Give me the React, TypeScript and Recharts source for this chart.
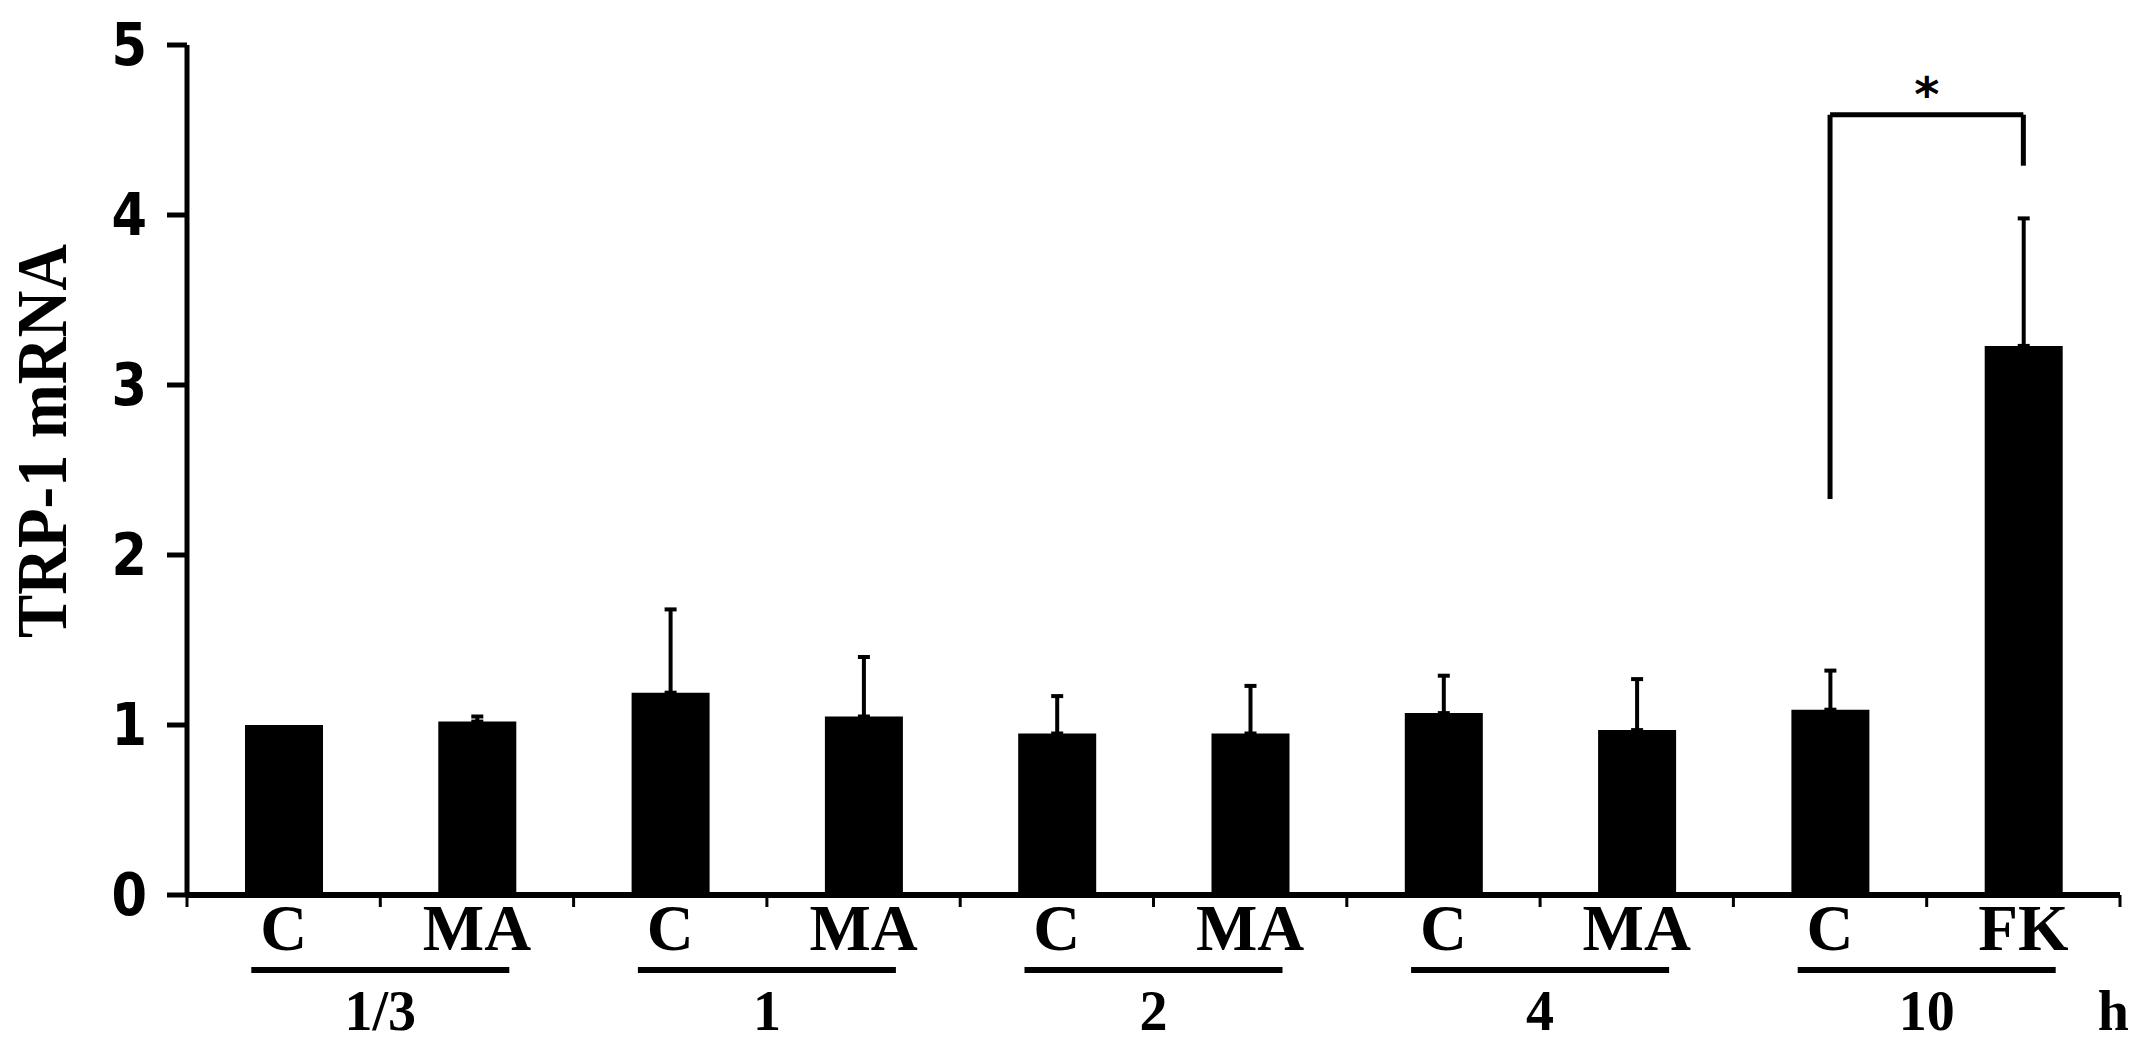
import React from 'react';
import { BarChart, Bar, XAxis, YAxis, ErrorBar, ReferenceLine } from 'recharts';

const timeGroups = ['1/3', '1', '2', '4', '10'];
const treatments = ['C', 'MA', 'C', 'MA', 'C', 'MA', 'C', 'MA', 'C', 'FK'];
const means = [1.0, 1.02, 1.19, 1.05, 0.95, 0.95, 1.07, 0.97, 1.09, 3.23];
const sems = [0, 0.03, 0.49, 0.35, 0.22, 0.28, 0.22, 0.3, 0.23, 0.75];
const yTicks = [0, 1, 2, 3, 4, 5];

// significance bracket between 10h C and FK
const sigLeftBottom = 2.33;
const sigTop = 4.59;
const sigRightBottom = 4.29;

const data = treatments.map((t, i) => ({
  key: `${timeGroups[Math.floor(i / 2)]}-${t}`,
  treatment: t,
  mean: means[i],
  err: sems[i] > 0 ? [0, sems[i]] : null,
}));

const CHART_W = 2150;
const CHART_H = 1050;
const MARGIN = { top: 45, right: 30, bottom: 0, left: 0 };
const YAXIS_W = 187;
const XAXIS_H = 155;
const BAND = (CHART_W - MARGIN.left - MARGIN.right - YAXIS_W) / treatments.length;

const SERIF = '"Liberation Serif", "Times New Roman", serif';
const SANS = '"DejaVu Sans", Verdana, sans-serif';

const CategoryTick = (props: any) => {
  const { x, y, index } = props;
  const last = index === treatments.length - 1;
  const groupStart = index % 2 === 0;
  const gx = x + BAND / 2;
  return (
    <g>
      <line x1={x - BAND / 2} x2={x - BAND / 2} y1={y} y2={y + 12} stroke="#000" strokeWidth={3} />
      {last && <line x1={x + BAND / 2} x2={x + BAND / 2} y1={y} y2={y + 12} stroke="#000" strokeWidth={3} />}
      <text x={x} y={y + 55} textAnchor="middle" fontFamily={SERIF} fontWeight="bold" fontSize={65} fill="#000">
        {treatments[index]}
      </text>
      {groupStart && (
        <>
          <line x1={gx - 129} x2={gx + 129} y1={y + 75} y2={y + 75} stroke="#000" strokeWidth={6} />
          <text x={gx} y={y + 135} textAnchor="middle" fontFamily={SERIF} fontWeight="bold" fontSize={56} fill="#000">
            {timeGroups[index / 2]}
          </text>
        </>
      )}
      {last && (
        <text x={x + 90} y={y + 135} textAnchor="middle" fontFamily={SERIF} fontWeight="bold" fontSize={56} fill="#000">
          h
        </text>
      )}
    </g>
  );
};

const ValueTick = (props: any) => {
  const { x, y, payload } = props;
  return (
    <text
      transform={`translate(${x}, ${y}) scale(0.88, 1)`}
      textAnchor="end"
      dominantBaseline="central"
      fontFamily={SANS}
      fontWeight="bold"
      fontSize={58}
      fill="#000"
    >
      {payload.value}
    </text>
  );
};

const YLabel = (props: any) => {
  const vb = props.viewBox || { x: 0, y: MARGIN.top, width: YAXIS_W, height: 850 };
  const cx = vb.x + 42;
  const cy = vb.y + vb.height / 2 - 29;
  return (
    <text
      transform={`translate(${cx}, ${cy}) rotate(-90) scale(0.9, 1)`}
      textAnchor="middle"
      dominantBaseline="central"
      fontFamily={SERIF}
      fontWeight="bold"
      fontSize={72}
      fill="#000"
    >
      TRP-1 mRNA
    </text>
  );
};

export default function App() {
  return (
    <div style={{ position: 'absolute', left: 0, top: 0, background: '#fff' }}>
      <BarChart width={CHART_W} height={CHART_H} data={data} margin={MARGIN} barSize={78}>
        <XAxis
          dataKey="key"
          height={XAXIS_H}
          interval={0}
          tickSize={0}
          tickMargin={0}
          tickLine={false}
          axisLine={{ stroke: '#000', strokeWidth: 6 }}
          tick={<CategoryTick />}
        />
        <YAxis
          width={YAXIS_W}
          domain={[0, 5]}
          ticks={yTicks}
          interval={0}
          tickSize={20}
          tickMargin={20}
          axisLine={{ stroke: '#000', strokeWidth: 5 }}
          tickLine={{ stroke: '#000', strokeWidth: 5 }}
          tick={<ValueTick />}
          label={<YLabel />}
        />
        <Bar dataKey="mean" fill="#000" isAnimationActive={false}>
          <ErrorBar dataKey="err" direction="y" width={6} stroke="#000" strokeWidth={4} isAnimationActive={false} />
        </Bar>
        <ReferenceLine
          segment={[
            { x: data[8].key, y: sigLeftBottom },
            { x: data[8].key, y: sigTop },
          ]}
          stroke="#000"
          strokeWidth={5}
        />
        <ReferenceLine
          segment={[
            { x: data[9].key, y: sigRightBottom },
            { x: data[9].key, y: sigTop },
          ]}
          stroke="#000"
          strokeWidth={5}
        />
        <ReferenceLine
          segment={[
            { x: data[8].key, y: sigTop },
            { x: data[9].key, y: sigTop },
          ]}
          stroke="#000"
          strokeWidth={5}
          label={{ value: '*', position: 'top', offset: 4, fontSize: 48, fontWeight: 'bold', fontFamily: SANS, fill: '#000' }}
        />
      </BarChart>
    </div>
  );
}
